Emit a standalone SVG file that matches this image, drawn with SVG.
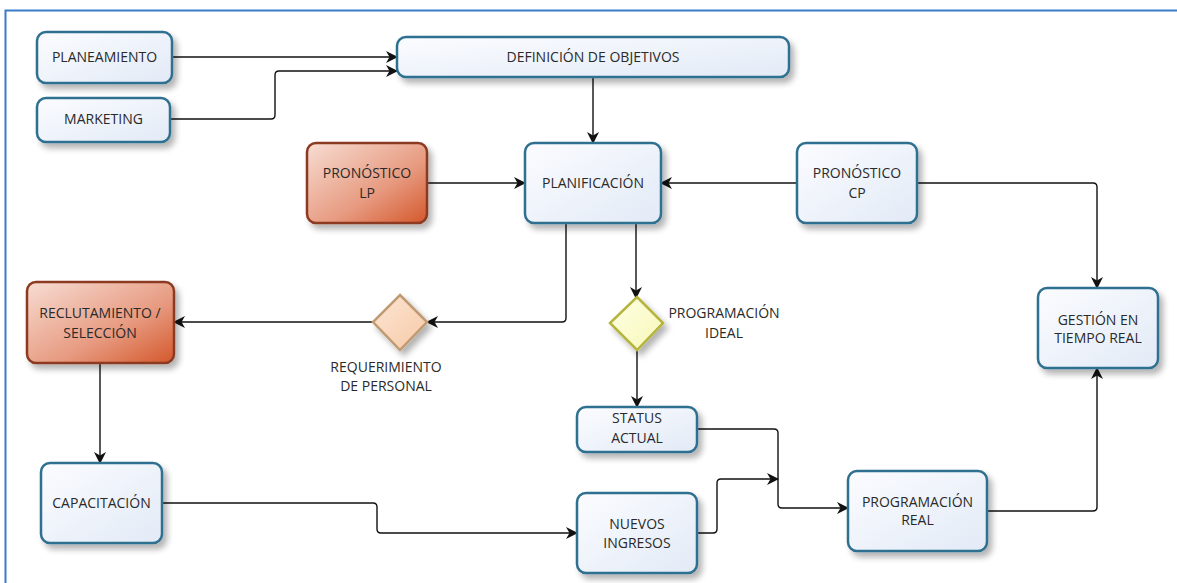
<svg xmlns="http://www.w3.org/2000/svg" width="1177" height="583" viewBox="0 0 1177 583">
<defs>
<linearGradient id="gb" x1="0" y1="0" x2="1" y2="1"><stop offset="0" stop-color="#fbfcff"/><stop offset="1" stop-color="#e2eaf6"/></linearGradient>
<linearGradient id="go" x1="0" y1="0" x2="1" y2="1"><stop offset="0" stop-color="#f7ddd3"/><stop offset="0.6" stop-color="#e79a80"/><stop offset="1" stop-color="#d4582c"/></linearGradient>
<linearGradient id="gd1" x1="0" y1="0" x2="1" y2="1"><stop offset="0" stop-color="#fde6d4"/><stop offset="1" stop-color="#f6c9a6"/></linearGradient>
<linearGradient id="gd2" x1="0" y1="0" x2="1" y2="1"><stop offset="0" stop-color="#fefee6"/><stop offset="1" stop-color="#f8f8b8"/></linearGradient>
<filter id="sh" x="-20%" y="-20%" width="150%" height="160%"><feGaussianBlur in="SourceAlpha" stdDeviation="3"/><feOffset dx="4" dy="5" result="b"/><feComponentTransfer><feFuncA type="linear" slope="0.3"/></feComponentTransfer><feMerge><feMergeNode/><feMergeNode in="SourceGraphic"/></feMerge></filter>
<marker id="ar" viewBox="0 0 12 12" refX="11" refY="6" markerWidth="12" markerHeight="12" markerUnits="userSpaceOnUse" orient="auto"><path d="M0,0 L12,6 L0,12 L3.5,6 z" fill="#111"/></marker>
</defs>
<style>
.bx{fill:url(#gb);stroke:#2f6f8f;stroke-width:2.5}
.or{fill:url(#go);stroke:#8c3a22;stroke-width:2.5}
.t{font-family:"Open Sans","Noto Sans",sans-serif;font-size:14px;fill:#2a2a2a;text-anchor:middle}
.ca{fill:none;stroke:#111;stroke-width:1.4;marker-end:url(#ar)}
</style>
<rect width="1177" height="583" fill="#fff"/>
<path d="M5.5,583 V10.5 H1177" fill="none" stroke="#3a7cc8" stroke-width="2"/>

<g id="connectors">
<path class="ca" d="M172,57 H397"/>
<path class="ca" d="M170,119 H271 Q275,119 275,115 V75 Q275,71 279,71 H397"/>
<path class="ca" d="M593,77 V143"/>
<path class="ca" d="M427,183 H525"/>
<path class="ca" d="M797,183 H661"/>
<path class="ca" d="M917,183 H1093 Q1097,183 1097,187 V288"/>
<path class="ca" d="M566,223 V318 Q566,322 562,322 H427"/>
<path class="ca" d="M636,223 V298"/>
<path class="ca" d="M373,322 H174"/>
<path class="ca" d="M637,350 V407"/>
<path class="ca" d="M100,363 V463"/>
<path class="ca" d="M162,503 H373 Q377,503 377,507 V529 Q377,533 381,533 H577"/>
<path class="ca" d="M697,533 H713 Q717,533 717,529 V483 Q717,479 721,479 H778"/>
<path class="ca" d="M697,429 H774 Q778,429 778,433 V504 Q778,508 782,508 H848"/>
<path class="ca" d="M987,511 H1093 Q1097,511 1097,507 V368"/>
</g>

<g id="planeamiento"><rect class="bx" filter="url(#sh)" x="37" y="32" width="135" height="51" rx="9"/><text class="t" x="104.5" y="62">PLANEAMIENTO</text></g>
<g id="marketing"><rect class="bx" filter="url(#sh)" x="37" y="98" width="133" height="44" rx="9"/><text class="t" x="103.5" y="124">MARKETING</text></g>
<g id="definicion"><rect class="bx" filter="url(#sh)" x="397" y="37" width="392" height="40" rx="9"/><text class="t" x="593" y="62">DEFINICIÓN DE OBJETIVOS</text></g>
<g id="planificacion"><rect class="bx" filter="url(#sh)" x="525" y="143" width="136" height="80" rx="9"/><text class="t" x="593" y="188">PLANIFICACIÓN</text></g>
<g id="pronostico-lp"><rect class="or" filter="url(#sh)" x="307" y="143" width="120" height="80" rx="9"/><text class="t" x="367" y="178">PRONÓSTICO</text><text class="t" x="367" y="198">LP</text></g>
<g id="pronostico-cp"><rect class="bx" filter="url(#sh)" x="797" y="143" width="120" height="80" rx="9"/><text class="t" x="857" y="178">PRONÓSTICO</text><text class="t" x="857" y="198">CP</text></g>
<g id="gestion"><rect class="bx" filter="url(#sh)" x="1038" y="288" width="120" height="80" rx="9"/><text class="t" x="1098" y="325">GESTIÓN EN</text><text class="t" x="1098" y="343">TIEMPO REAL</text></g>
<g id="reclutamiento"><rect class="or" filter="url(#sh)" x="27" y="282" width="147" height="81" rx="9"/><text class="t" x="100" y="318">RECLUTAMIENTO /</text><text class="t" x="100" y="338">SELECCIÓN</text></g>
<g id="requerimiento"><path filter="url(#sh)" d="M400,295 L427,322 L400,350 L373,322 z" fill="url(#gd1)" stroke="#c09a72" stroke-width="2.5"/><text class="t" x="386" y="372">REQUERIMIENTO</text><text class="t" x="386" y="391">DE PERSONAL</text></g>
<g id="prog-ideal"><path filter="url(#sh)" d="M637,297 L663,323 L637,350 L610,323 z" fill="url(#gd2)" stroke="#b5b53c" stroke-width="2.5"/><text class="t" x="724" y="318">PROGRAMACIÓN</text><text class="t" x="724" y="338">IDEAL</text></g>
<g id="status"><rect class="bx" filter="url(#sh)" x="577" y="407" width="120" height="45" rx="9"/><text class="t" x="637" y="423">STATUS</text><text class="t" x="637" y="443">ACTUAL</text></g>
<g id="capacitacion"><rect class="bx" filter="url(#sh)" x="41" y="463" width="121" height="80" rx="9"/><text class="t" x="101.5" y="508">CAPACITACIÓN</text></g>
<g id="nuevos"><rect class="bx" filter="url(#sh)" x="577" y="493" width="120" height="80" rx="9"/><text class="t" x="637" y="529">NUEVOS</text><text class="t" x="637" y="548">INGRESOS</text></g>
<g id="prog-real"><rect class="bx" filter="url(#sh)" x="848" y="471" width="139" height="80" rx="9"/><text class="t" x="917.5" y="507">PROGRAMACIÓN</text><text class="t" x="917.5" y="525">REAL</text></g>
</svg>
